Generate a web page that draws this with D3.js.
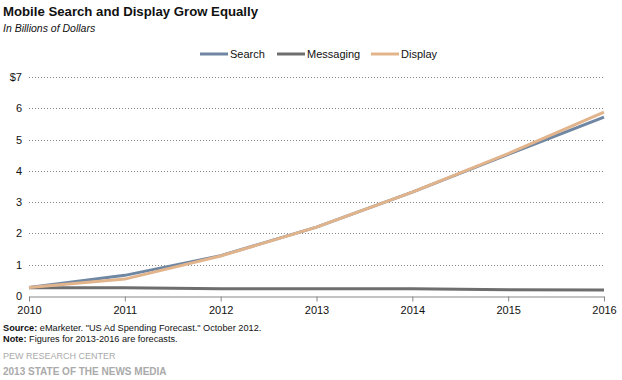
<!DOCTYPE html>
<html><head><meta charset="utf-8">
<script src="https://cdn.jsdelivr.net/npm/d3@7"></script>
<style>body{margin:0;background:#fff;font-family:"Liberation Sans",Arial,sans-serif;}</style>
</head><body><svg id="c" width="622" height="380"></svg>
<script>
const years = [2010, 2011, 2012, 2013, 2014, 2015, 2016];
const search = [0.27, 0.66, 1.29, 2.2, 3.32, 4.53, 5.72];
const messaging = [0.26, 0.26, 0.23, 0.23, 0.23, 0.2, 0.19];
const display = [0.27, 0.54, 1.28, 2.2, 3.32, 4.55, 5.88];
const yTicks = [0, 1, 2, 3, 4, 5, 6, 7];
const yTickLabels = ["0", "1", "2", "3", "4", "5", "6", "$7"];
const seriesNames = ["Search", "Messaging", "Display"];
const colors = ["#6f87a3", "#6e6e6e", "#e2b48c"];

const svg = d3.select("#c");
const x = d3.scaleLinear().domain([2010, 2016]).range([29, 604]);
const y = d3.scaleLinear().domain([0, 7]).range([296, 77]);

svg.append("text").attr("x", 3).attr("y", 16).attr("font-size", 13.2).attr("font-weight", "bold").attr("fill", "#111").text("Mobile Search and Display Grow Equally");
svg.append("text").attr("x", 3).attr("y", 32).attr("font-size", 10.5).attr("font-style", "italic").attr("fill", "#111").text("In Billions of Dollars");

// gridlines
svg.append("g").selectAll("line").data(yTicks.filter(d => d > 0)).join("line")
  .attr("x1", 29).attr("x2", 604).attr("y1", d => Math.round(y(d)) + 0.5).attr("y2", d => Math.round(y(d)) + 0.5)
  .attr("stroke", "#888").attr("stroke-dasharray", "1,2").attr("stroke-width", 1);

// y labels
svg.append("g").selectAll("text").data(yTicks).join("text")
  .attr("x", 22).attr("y", d => y(d) + 4).attr("text-anchor", "end").attr("font-size", 11).attr("fill", "#111")
  .text((d, i) => yTickLabels[i]);

// x axis
const xAxis = d3.axisBottom(x).tickValues(years).tickFormat(d3.format("d")).tickSize(5).tickSizeOuter(0);
const gx = svg.append("g").attr("transform", "translate(0,296.5)").call(xAxis);
gx.select(".domain").attr("stroke", "#888");
gx.selectAll(".tick line").attr("stroke", "#888");
gx.selectAll(".tick text").attr("font-size", 11).attr("fill", "#111").attr("font-family", "Liberation Sans, Arial, sans-serif").attr("dy", "0.9em");

const line = d3.line().x((d, i) => x(years[i])).y(d => y(d));
const data = [search, messaging, display];
[1, 0, 2].forEach(k => {
  svg.append("path").attr("d", line(data[k])).attr("fill", "none").attr("stroke", colors[k]).attr("stroke-width", 3);
});

// legend
const legX = [200, 277, 371];
seriesNames.forEach((n, i) => {
  svg.append("line").attr("x1", legX[i]).attr("x2", legX[i] + 28).attr("y1", 54).attr("y2", 54).attr("stroke", colors[i]).attr("stroke-width", 3);
  svg.append("text").attr("x", legX[i] + 30).attr("y", 58).attr("font-size", 11).attr("fill", "#111").text(n);
});

// footnotes
const src = svg.append("text").attr("x", 3).attr("y", 331).attr("font-size", 9.2).attr("fill", "#111");
src.append("tspan").attr("font-weight", "bold").text("Source:");
src.append("tspan").text(" eMarketer. \"US Ad Spending  Forecast.\" October 2012.");
const note = svg.append("text").attr("x", 3).attr("y", 342).attr("font-size", 9.2).attr("fill", "#111");
note.append("tspan").attr("font-weight", "bold").text("Note:");
note.append("tspan").text(" Figures for 2013-2016  are forecasts.");
svg.append("text").attr("x", 3).attr("y", 359).attr("font-size", 9).attr("fill", "#aaa").text("PEW RESEARCH CENTER");
svg.append("text").attr("x", 3).attr("y", 375).attr("font-size", 10).attr("font-weight", "bold").attr("fill", "#aaa").text("2013 STATE OF THE NEWS MEDIA");
</script></body></html>
